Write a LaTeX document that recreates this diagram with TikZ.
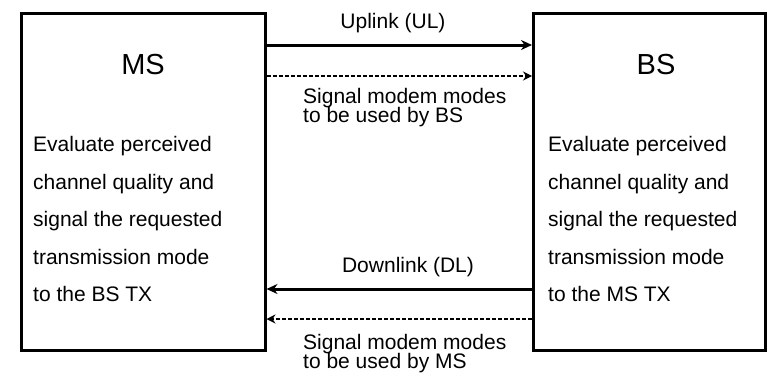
\documentclass[tikz,border=0pt]{standalone}
\usepackage{fontspec}
\setmainfont{Liberation Sans}
\usetikzlibrary{arrows.meta}
\begin{document}
\begin{tikzpicture}[x=1pt,y=-1pt,
  box/.style={draw, line width=3pt, inner sep=0pt},
  title/.style={font=\fontsize{29}{29}\selectfont, inner sep=0pt, anchor=base},
  body/.style={font=\fontsize{21}{37.5}\selectfont, inner sep=0pt, anchor=north west, align=left},
  lbl/.style={font=\fontsize{21}{19}\selectfont, inner sep=0pt},
  solidarrow/.style={line width=3pt, -{Stealth[length=11pt,width=10pt]}},
  dotarrow/.style={line width=1.6pt, dash pattern=on 4pt off 2pt, -{Stealth[length=9pt,width=9pt]}}]
\useasboundingbox (0,0) rectangle (767,375);
\fill[white] (0,0) rectangle (767,375);
\node[box, minimum width=244pt, minimum height=337pt] (ms) at (143,181.5) {};
\node[box, minimum width=232pt, minimum height=337pt] (bs) at (649.5,181.5) {};
\node[title] (mst) at (143,74) {MS};
\node[title] (bst) at (656,74) {BS};
\node[body] (msb) at (33,136.5) {Evaluate perceived\\channel quality and\\signal the requested\\transmission mode\\to the BS TX};
\node[body] (bsb) at (548,136.5) {Evaluate perceived\\channel quality and\\signal the requested\\transmission mode\\to the MS TX};
\draw[solidarrow] (ms.east |- 0,45) -- (bs.west |- 0,45);
\draw[dotarrow] (ms.east |- 0,76) -- (bs.west |- 0,76);
\draw[solidarrow] (bs.west |- 0,289) -- (ms.east |- 0,289);
\draw[dotarrow] (bs.west |- 0,319) -- (ms.east |- 0,319);
\node[lbl, anchor=base] (ul) at (393,28) {Uplink (UL)};
\node[lbl, anchor=base west] (ulb1) at (303,103) {Signal modem modes};
\node[lbl, anchor=base west] (ulb2) at (303,122) {to be used by BS};
\node[lbl, anchor=base] (dl) at (408,272) {Downlink (DL)};
\node[lbl, anchor=base west] (dlb1) at (303,349) {Signal modem modes};
\node[lbl, anchor=base west] (dlb2) at (303,368) {to be used by MS};
\end{tikzpicture}
\end{document}
